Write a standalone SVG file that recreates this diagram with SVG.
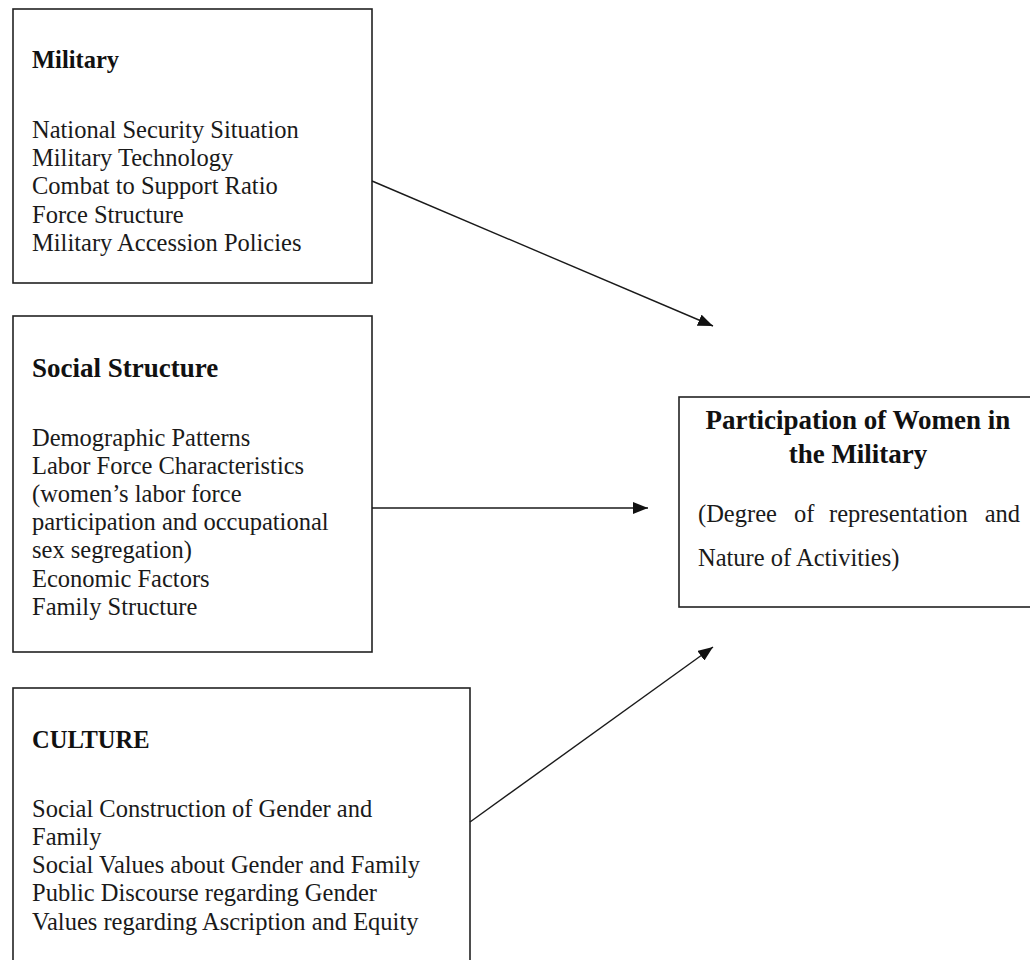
<svg xmlns="http://www.w3.org/2000/svg" width="1030" height="960" viewBox="0 0 1030 960">
  <style>
    .box { fill: #ffffff; stroke: #222222; stroke-width: 1.6; }
    .t { font-family: "Liberation Serif", "Times New Roman", serif; font-size: 24.5px; fill: #1a1a1a; }
    .h { font-family: "Liberation Serif", "Times New Roman", serif; font-weight: bold; fill: #111111; }
    .conn { stroke: #1a1a1a; stroke-width: 1.4; fill: none; marker-end: url(#arrow); }
  </style>
  <defs>
    <marker id="arrow" markerUnits="userSpaceOnUse" markerWidth="16" markerHeight="12" refX="15" refY="6" orient="auto">
      <path d="M0,0 L15,6 L0,12 z" fill="#111111"/>
    </marker>
  </defs>
  <rect width="1030" height="960" fill="#ffffff"/>

  <g id="military">
    <rect class="box" x="13" y="9" width="359" height="274"/>
    <text class="h" x="32" y="68" font-size="24.5">Military</text>
    <text class="t" x="32" y="138">National Security Situation</text>
    <text class="t" x="32" y="166">Military Technology</text>
    <text class="t" x="32" y="194">Combat to Support Ratio</text>
    <text class="t" x="32" y="223">Force Structure</text>
    <text class="t" x="32" y="251">Military Accession Policies</text>
  </g>

  <g id="social-structure">
    <rect class="box" x="13" y="316" width="359" height="336"/>
    <text class="h" x="32" y="377" font-size="27">Social Structure</text>
    <text class="t" x="32" y="446">Demographic Patterns</text>
    <text class="t" x="32" y="474">Labor Force Characteristics</text>
    <text class="t" x="32" y="502">(women’s labor force</text>
    <text class="t" x="32" y="530">participation and occupational</text>
    <text class="t" x="32" y="558">sex segregation)</text>
    <text class="t" x="32" y="587">Economic Factors</text>
    <text class="t" x="32" y="615">Family Structure</text>
  </g>

  <g id="culture">
    <rect class="box" x="13" y="688" width="457" height="300"/>
    <text class="h" x="32" y="748" font-size="24.5">CULTURE</text>
    <text class="t" x="32" y="817">Social Construction of Gender and</text>
    <text class="t" x="32" y="845">Family</text>
    <text class="t" x="32" y="873">Social Values about Gender and Family</text>
    <text class="t" x="32" y="901">Public Discourse regarding Gender</text>
    <text class="t" x="32" y="930">Values regarding Ascription and Equity</text>
  </g>

  <g id="participation">
    <rect class="box" x="679" y="397" width="400" height="210"/>
    <text class="h" x="858" y="429" font-size="27" text-anchor="middle">Participation of Women in</text>
    <text class="h" x="858" y="463" font-size="27" text-anchor="middle">the Military</text>
    <text class="t" x="698" y="522">(Degree</text>
    <text class="t" x="794" y="522">of</text>
    <text class="t" x="829" y="522">representation</text>
    <text class="t" x="1020" y="522" text-anchor="end">and</text>
    <text class="t" x="698" y="566">Nature of Activities)</text>
  </g>

  <g id="connectors">
    <line class="conn" x1="372" y1="181" x2="713" y2="326"/>
    <line class="conn" x1="372" y1="508" x2="648" y2="508"/>
    <line class="conn" x1="470" y1="822" x2="713" y2="647"/>
  </g>
</svg>
